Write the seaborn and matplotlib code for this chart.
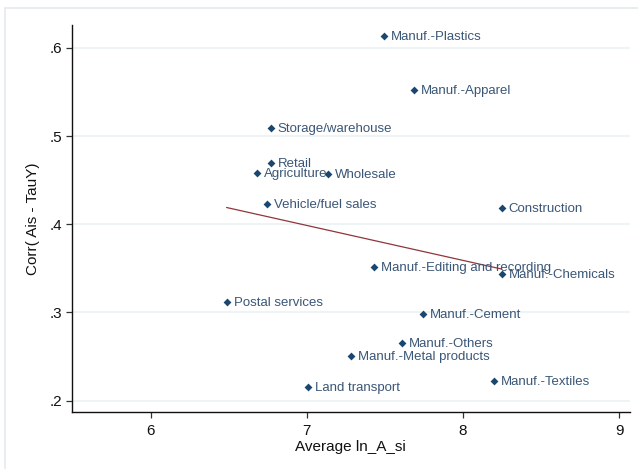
import matplotlib
matplotlib.use("Agg")
import matplotlib.pyplot as plt
import matplotlib.patches as mpatches
import numpy as np
import pandas as pd
import seaborn as sns

# Industry-level averages
sectors = [
    "Manuf.-Plastics", "Manuf.-Apparel", "Storage/warehouse", "Retail",
    "Agriculture", "Wholesale", "Vehicle/fuel sales", "Construction",
    "Manuf.-Editing and recording", "Manuf.-Chemicals", "Postal services",
    "Manuf.-Cement", "Manuf.-Others", "Manuf.-Metal products",
    "Land transport", "Manuf.-Textiles",
]
avg_ln_a = [7.494, 7.687, 6.768, 6.768, 6.682, 7.136, 6.746, 8.246,
            7.429, 8.246, 6.486, 7.742, 7.606, 7.284, 7.006, 8.198]
corr_ais_tauy = [0.614, 0.552, 0.509, 0.469, 0.458, 0.457, 0.423, 0.418,
                 0.352, 0.344, 0.312, 0.298, 0.265, 0.251, 0.216, 0.222]

x_ticks = [6, 7, 8, 9]
y_ticks = [0.2, 0.3, 0.4, 0.5, 0.6]
y_tick_labels = [".2", ".3", ".4", ".5", ".6"]

df = pd.DataFrame({"sector": sectors, "x": avg_ln_a, "y": corr_ais_tauy})

navy = "#1a476f"
label_color = "#3a5677"
maroon = "#90353b"

sns.set_style("white")
plt.rcParams["font.family"] = ["Liberation Sans", "DejaVu Sans"]

fig = plt.figure(figsize=(6.38, 4.69), dpi=100)
ax = fig.add_axes([71.7 / 638, 1 - 411.7 / 469, (630 - 71.7) / 638, (411.7 - 25) / 469])

# light outer graph-region frame
frame = mpatches.Rectangle((5 / 638, -0.1), 1.2, 1 - 8 / 469 + 0.1,
                           transform=fig.transFigure, fill=False,
                           edgecolor="#e4ebee", linewidth=1.2, zorder=0)
fig.patches.append(frame)

ax.set_axisbelow(True)
ax.yaxis.grid(True, color="#eaf2f3", linewidth=1.2)
ax.xaxis.grid(False)

sns.regplot(data=df, x="x", y="y", scatter=False, ci=None, ax=ax,
            line_kws={"color": maroon, "linewidth": 0.9})
sns.scatterplot(data=df, x="x", y="y", marker="D", s=16, color=navy,
                edgecolor=navy, linewidth=0, ax=ax, zorder=3)

for name, xv, yv in zip(df["sector"], df["x"], df["y"]):
    ax.annotate(name, (xv, yv), xytext=(7, -1), textcoords="offset pixels",
                ha="left", va="center", fontsize=9.5, color=label_color)

ax.set_xlim(5.495, 9.068)
ax.set_ylim(0.1875, 0.626)
ax.set_xticks(x_ticks)
ax.set_xticklabels([str(t) for t in x_ticks])
ax.set_yticks(y_ticks)
ax.set_yticklabels(y_tick_labels)

for s in ["top", "right"]:
    ax.spines[s].set_visible(False)
for s in ["left", "bottom"]:
    ax.spines[s].set_color("#111111")
    ax.spines[s].set_linewidth(1.0)

ax.tick_params(axis="both", which="both", direction="out", length=4.5,
               width=0.9, color="#333333", labelsize=11, labelcolor="#111111",
               bottom=True, left=True)
ax.tick_params(axis="y", pad=2)
ax.tick_params(axis="x", pad=4)

ax.set_xlabel("Average ln_A_si", fontsize=11, color="#111111", labelpad=2)
ax.set_ylabel("Corr( Ais - TauY)", fontsize=11, color="#111111", labelpad=7)

fig.savefig("out.png", dpi=100)
